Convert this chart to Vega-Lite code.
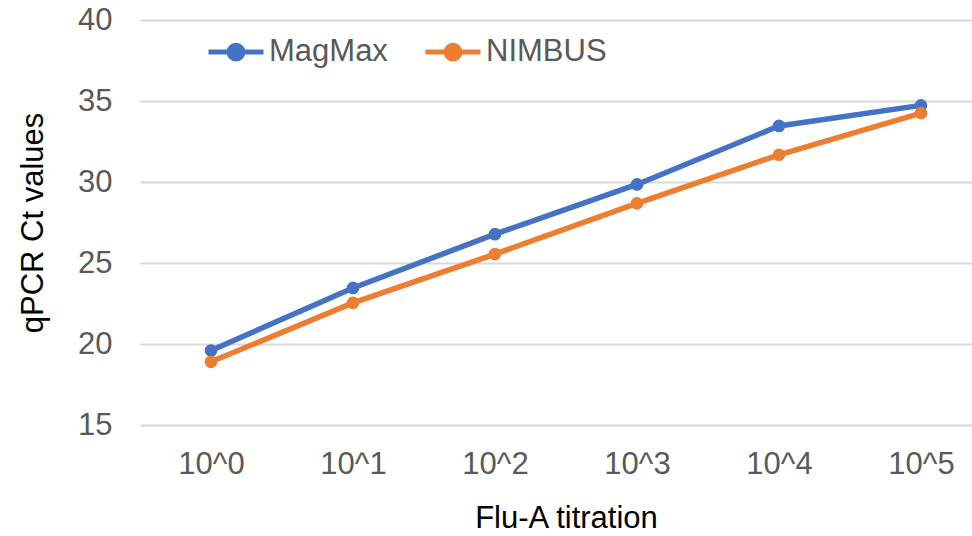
{
  "$schema": "https://vega.github.io/schema/vega-lite/v6.json",
  "width": 852,
  "height": 405,
  "autosize": {"type": "none"},
  "padding": {"left": 140, "top": 20, "right": 0, "bottom": 111},
  "background": "white",
  "config": {
    "font": "Liberation Sans",
    "view": {"stroke": null},
    "axis": {"labelFont": "Liberation Sans", "titleFont": "Liberation Sans"}
  },
  "data": {
    "values": [
      {"titration": "10^0", "method": "MagMax", "ct": 19.6},
      {"titration": "10^1", "method": "MagMax", "ct": 23.46},
      {"titration": "10^2", "method": "MagMax", "ct": 26.78},
      {"titration": "10^3", "method": "MagMax", "ct": 29.85},
      {"titration": "10^4", "method": "MagMax", "ct": 33.46},
      {"titration": "10^5", "method": "MagMax", "ct": 34.73},
      {"titration": "10^0", "method": "NIMBUS", "ct": 18.9},
      {"titration": "10^1", "method": "NIMBUS", "ct": 22.54},
      {"titration": "10^2", "method": "NIMBUS", "ct": 25.55},
      {"titration": "10^3", "method": "NIMBUS", "ct": 28.68},
      {"titration": "10^4", "method": "NIMBUS", "ct": 31.68},
      {"titration": "10^5", "method": "NIMBUS", "ct": 34.25}
    ]
  },
  "encoding": {
    "x": {
      "field": "titration", "type": "ordinal",
      "scale": {"type": "point", "padding": 0.5},
      "axis": {
        "title": "Flu-A titration", "labelAngle": 0, "labelFontSize": 31, "labelColor": "#595959",
        "labelPadding": 24, "domain": false, "ticks": false, "grid": false,
        "titleFontSize": 31, "titleFontWeight": "normal", "titleColor": "#000000", "titlePadding": 24
      }
    },
    "y": {
      "field": "ct", "type": "quantitative",
      "scale": {"domain": [15, 40], "nice": false, "zero": false},
      "axis": {
        "title": "qPCR Ct values", "values": [15, 20, 25, 30, 35, 40], "labelFontSize": 31, "labelColor": "#595959",
        "labelPadding": 28, "domain": false, "ticks": false, "gridColor": "#d9d9d9", "gridWidth": 2,
        "titleFontSize": 31, "titleFontWeight": "normal", "titleColor": "#000000", "titlePadding": 28
      }
    },
    "color": {
      "field": "method", "type": "nominal",
      "scale": {"domain": ["MagMax", "NIMBUS"], "range": ["#4472C4", "#ED7D31"]},
      "legend": {
        "title": null, "orient": "none", "direction": "horizontal", "legendX": 66, "legendY": 2,
        "labelFontSize": 31, "labelColor": "#595959", "labelFont": "Liberation Sans",
        "symbolType": "M -1 0 L 1 0 M 0.25 0 A 0.25 0.25 0 1 1 -0.25 0 A 0.25 0.25 0 1 1 0.25 0",
        "symbolSize": 3025, "symbolStrokeWidth": 5, "labelOffset": 3, "columnPadding": 27
      }
    }
  },
  "layer": [
    {"mark": {"type": "line", "strokeWidth": 5.5}},
    {"mark": {"type": "point", "filled": true, "size": 160, "opacity": 1}}
  ]
}
